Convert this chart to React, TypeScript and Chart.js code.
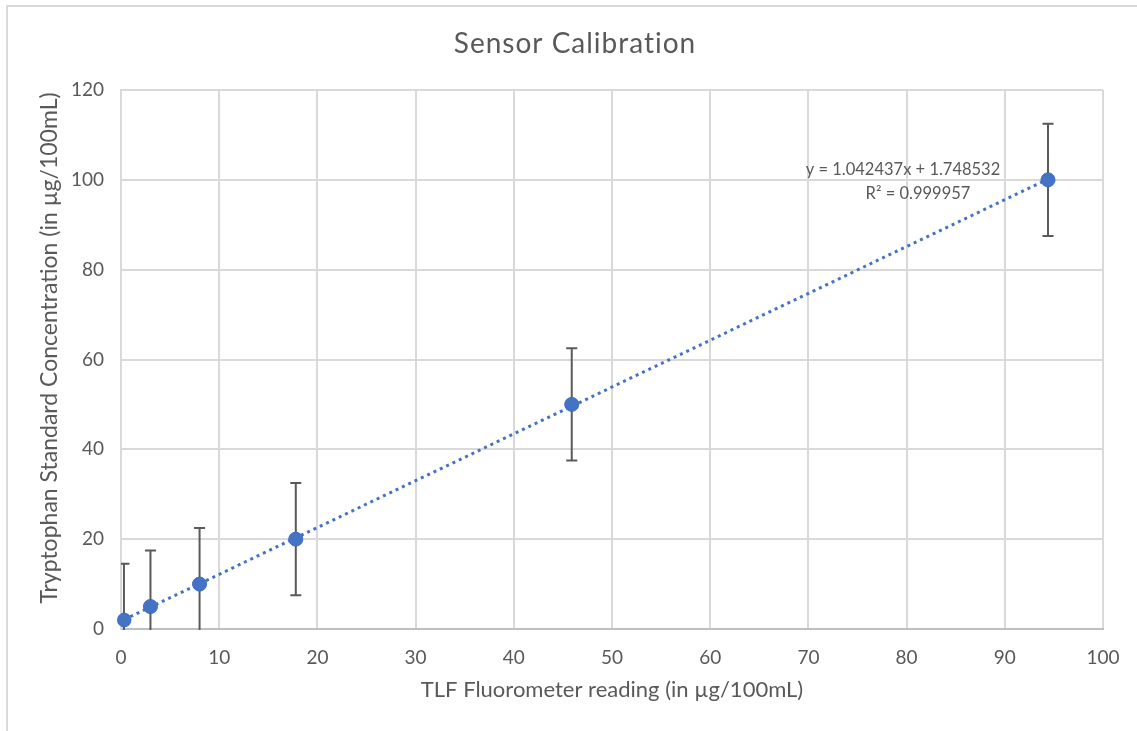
import React, { useEffect, useRef } from "react";
import { Chart, registerables } from "chart.js";

Chart.register(...registerables);

const xReadings = [0.3, 3.0, 8.0, 17.8, 45.9, 94.4];
const yConcentrations = [2, 5, 10, 20, 50, 100];
const yErrors = [12.5, 12.5, 12.5, 12.5, 12.5, 12.5];
const slope = 1.042437;
const intercept = 1.748532;
const equationText = "y = 1.042437x + 1.748532";
const r2Text = "R² = 0.999957";
const titleText = "Sensor Calibration";
const xTitle = "TLF Fluorometer reading (in µg/100mL)";
const yTitle = "Tryptophan Standard Concentration (in µg/100mL)";

const FONT = "Lato, 'Open Sans', sans-serif";
const TEXT = "#595959";
const BLUE = "#4472C4";

const frameAndExtras = {
  id: "frameAndExtras",
  beforeDraw(chart: any) {
    const ctx = chart.ctx;
    ctx.save();
    ctx.fillStyle = "#ffffff";
    ctx.fillRect(0, 0, chart.width, chart.height);
    ctx.strokeStyle = "#d9d9d9";
    ctx.lineWidth = 2;
    ctx.beginPath();
    ctx.moveTo(7, chart.height);
    ctx.lineTo(7, 6);
    ctx.lineTo(chart.width, 6);
    ctx.stroke();
    ctx.restore();
  },
  afterDatasetsDraw(chart: any) {
    const ctx = chart.ctx;
    const xs = chart.scales.x;
    const ys = chart.scales.y;
    const area = chart.chartArea;
    ctx.save();
    ctx.beginPath();
    ctx.rect(area.left, area.top, area.right - area.left, area.bottom - area.top + 1);
    ctx.clip();
    ctx.strokeStyle = "#5a5a5a";
    ctx.lineWidth = 2;
    for (let i = 0; i < xReadings.length; i++) {
      const px = xs.getPixelForValue(xReadings[i]);
      const top = ys.getPixelForValue(yConcentrations[i] + yErrors[i]);
      const bot = ys.getPixelForValue(yConcentrations[i] - yErrors[i]);
      ctx.beginPath();
      ctx.moveTo(px, top);
      ctx.lineTo(px, bot);
      ctx.moveTo(px - 5.5, top);
      ctx.lineTo(px + 5.5, top);
      ctx.moveTo(px - 5.5, bot);
      ctx.lineTo(px + 5.5, bot);
      ctx.stroke();
    }
    ctx.restore();
    // redraw points on top of error bars
    const meta = chart.getDatasetMeta(1);
    ctx.save();
    ctx.fillStyle = BLUE;
    meta.data.forEach((el: any) => {
      ctx.beginPath();
      ctx.arc(el.x, el.y, 7, 0, Math.PI * 2);
      ctx.fill();
    });
    ctx.restore();
    // title, axis titles and equation labels
    ctx.save();
    ctx.fillStyle = TEXT;
    ctx.textAlign = "center";
    ctx.textBaseline = "middle";
    ctx.font = `28px ${FONT}`;
    (ctx as any).letterSpacing = "1px";
    ctx.fillText(titleText, 575, 44);
    (ctx as any).letterSpacing = "0px";
    ctx.font = `22px ${FONT}`;
    ctx.fillText(xTitle, (area.left + area.right) / 2, 690);
    ctx.save();
    ctx.translate(50, 348);
    ctx.rotate(-Math.PI / 2);
    ctx.font = `23px ${FONT}`;
    ctx.fillText(yTitle, 0, 0);
    ctx.restore();
    ctx.font = `16.5px ${FONT}`;
    ctx.fillText(equationText, 903, 170);
    ctx.fillText(r2Text, 918, 194);
    ctx.restore();
  },
};

export default function App() {
  const ref = useRef<HTMLCanvasElement>(null);
  useEffect(() => {
    document.body.style.margin = "0";
    document.body.style.overflow = "hidden";
    const x0 = xReadings[0];
    const x1 = xReadings[xReadings.length - 1];
    const chart = new Chart(ref.current as HTMLCanvasElement, {
      type: "scatter",
      data: {
        datasets: [
          {
            type: "line",
            data: [
              { x: x0, y: slope * x0 + intercept },
              { x: x1, y: slope * x1 + intercept },
            ],
            borderColor: BLUE,
            borderWidth: 3,
            borderDash: [3, 4],
            pointRadius: 0,
            fill: false,
          } as any,
          {
            data: xReadings.map((x, i) => ({ x, y: yConcentrations[i] })),
            backgroundColor: BLUE,
            borderColor: BLUE,
            pointRadius: 7,
          },
        ],
      },
      plugins: [frameAndExtras],
      options: {
        animation: false,
        responsive: false,
        layout: { padding: { left: 20, right: 34, top: 90, bottom: 30 } },
        plugins: {
          legend: { display: false },
          tooltip: { enabled: false },
          title: { display: false },
        },
        scales: {
          x: {
            type: "linear",
            min: 0,
            max: 100,
            ticks: {
              stepSize: 10,
              color: TEXT,
              font: { family: FONT, size: 19 },
              padding: 17,
            },
            grid: { color: "#d9d9d9", lineWidth: 2, drawTicks: false },
            border: { color: "#bfbfbf", width: 2 },
            afterFit(scale: any) {
              scale.height = 72;
            },
          },
          y: {
            type: "linear",
            min: 0,
            max: 120,
            ticks: {
              stepSize: 20,
              color: TEXT,
              font: { family: FONT, size: 19 },
              padding: 17,
            },
            grid: { color: "#d9d9d9", lineWidth: 2, drawTicks: false },
            border: { color: "#d9d9d9", width: 2 },
            afterFit(scale: any) {
              scale.width = 101;
            },
          },
        },
      } as any,
    });
    return () => chart.destroy();
  }, []);
  return (
    <div style={{ width: 1137, height: 731 }}>
      <canvas ref={ref} width={1137} height={731} style={{ display: "block" }} />
    </div>
  );
}
